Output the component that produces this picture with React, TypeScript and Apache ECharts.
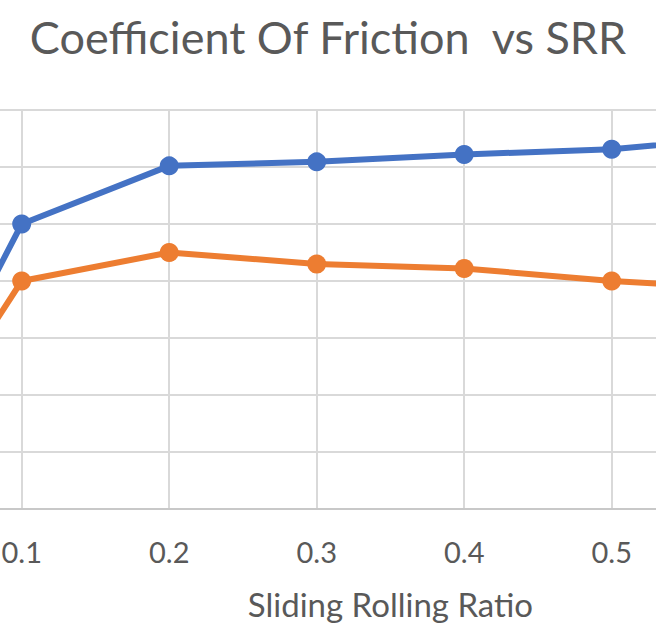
import React, { useEffect, useRef } from "react";
import * as echarts from "echarts";

// Sliding rolling ratio (x) and measured coefficient of friction for two runs
const srr = [0, 0.1, 0.2, 0.3, 0.4, 0.5, 0.6];
const cofSeries1 = [0, 0.05, 0.0602, 0.0609, 0.0622, 0.0631, 0.0655];
const cofSeries2 = [0, 0.04, 0.045, 0.043, 0.0422, 0.04, 0.0385];
const seriesNames = ["Series1", "Series2"];

// Tick labels shown along the visible stretch of the x axis
const xTickLabels = ["0.1", "0.2", "0.3", "0.4", "0.5"];

const titleText = "Coefficient Of Friction  vs SRR";
const xAxisTitle = "Sliding Rolling Ratio";

const FONT = "Lato, 'Open Sans', sans-serif";
const TEXT = "#595959";
const GRID = "#D9D9D9";

// The chart is laid out wider than the visible frame and shifted left.
const OFFSET_X = 300;
const CHART_W = 1300;
const CHART_H = 627;

export default function App() {
  const ref = useRef<HTMLDivElement>(null);

  useEffect(() => {
    if (!ref.current) return;
    const chart = echarts.init(ref.current, null, { renderer: "svg" });
    const pairs = (ys: number[]) => srr.map((x, i) => [x, ys[i]]);

    chart.setOption({
      animation: false,
      backgroundColor: "#ffffff",
      title: {
        text: titleText,
        left: OFFSET_X + 323,
        top: 9,
        textAlign: "center",
        textStyle: {
          fontFamily: FONT,
          fontWeight: "normal",
          fontSize: 45,
          color: TEXT,
        },
      },
      grid: {
        left: 174.2,
        right: 93.3,
        top: 110,
        bottom: CHART_H - 509,
        containLabel: false,
      },
      xAxis: {
        type: "value",
        min: 0,
        max: 0.7,
        interval: 0.1,
        name: xAxisTitle,
        nameLocation: "middle",
        nameGap: 78,
        nameTextStyle: { fontFamily: FONT, fontSize: 33, color: TEXT },
        axisLine: { show: true, lineStyle: { color: "#C8C8C8", width: 2 } },
        axisTick: { show: false },
        axisLabel: {
          fontFamily: FONT,
          fontSize: 29,
          color: TEXT,
          margin: 28,
          formatter: (v: number) => {
            const s = String(Math.round(v * 10) / 10);
            return xTickLabels.includes(s) ? s : "";
          },
        },
        splitLine: { show: true, lineStyle: { color: GRID, width: 2 } },
      },
      yAxis: {
        type: "value",
        min: 0,
        max: 0.07,
        interval: 0.01,
        axisLine: { show: false },
        axisTick: { show: false },
        axisLabel: { show: false },
        splitLine: { show: true, lineStyle: { color: GRID, width: 2 } },
      },
      series: [
        {
          name: seriesNames[0],
          type: "line",
          data: pairs(cofSeries1),
          symbol: "circle",
          symbolSize: 19,
          lineStyle: { color: "#4472C4", width: 6 },
          itemStyle: { color: "#4472C4" },
        },
        {
          name: seriesNames[1],
          type: "line",
          data: pairs(cofSeries2),
          symbol: "circle",
          symbolSize: 19,
          lineStyle: { color: "#ED7D31", width: 6 },
          itemStyle: { color: "#ED7D31" },
        },
      ],
    });

    return () => chart.dispose();
  }, []);

  return (
    <div
      style={{
        position: "fixed",
        left: 0,
        top: 0,
        width: 656,
        height: 627,
        overflow: "hidden",
        background: "#ffffff",
      }}
    >
      <div
        ref={ref}
        style={{
          position: "absolute",
          left: -OFFSET_X,
          top: 0,
          width: CHART_W,
          height: CHART_H,
        }}
      />
    </div>
  );
}
